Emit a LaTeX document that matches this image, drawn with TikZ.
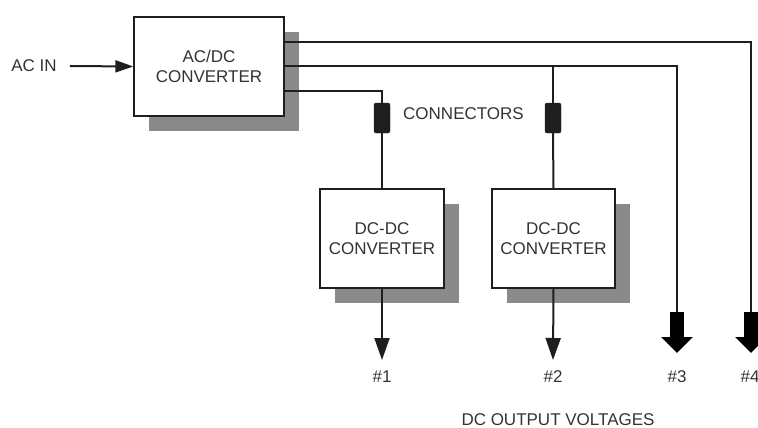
\documentclass[tikz,border=0pt]{standalone}
\usepackage{fontspec}
\setmainfont{Liberation Sans}
\usetikzlibrary{arrows.meta,shadows,calc}
\definecolor{linec}{HTML}{1E1E1E}
\definecolor{textc}{HTML}{333333}
\definecolor{shadowc}{HTML}{8A8A8A}
\tikzset{
  blockbox/.style={draw=linec, line width=1.4pt, fill=white, align=center, text=textc,
    font=\fontsize{17}{20.5}\selectfont, inner sep=0pt,
    drop shadow={shadow xshift=15pt, shadow yshift=-15pt, fill=shadowc, opacity=1}},
  wire/.style={draw=linec, line width=2pt},
  conn/.style={fill=linec, draw=linec, rounded corners=2pt, minimum width=16pt, minimum height=30pt, inner sep=0pt},
  lbl/.style={text=textc, font=\fontsize{17}{20}\selectfont, inner sep=0pt},
  thinarrow/.style={wire, -{Triangle[width=15pt,length=22pt]}},
  fatarrow/.style={draw=black, line width=14pt, -{Triangle[width=31pt,length=16pt]}}
}
\begin{document}
\begin{tikzpicture}[x=1pt,y=-1pt]
\useasboundingbox (0,0) rectangle (758,428);
\clip (0,0) rectangle (758,428);
% blocks
\node[blockbox, minimum width=150pt, minimum height=99pt] (acdc) at (209,66.5) {AC/DC\\CONVERTER};
\node[blockbox, minimum width=124pt, minimum height=99pt] (dc1) at (382,238.5) {DC-DC\\CONVERTER};
\node[blockbox, minimum width=123pt, minimum height=99pt] (dc2) at (553.5,238.5) {DC-DC\\CONVERTER};
% input
\node[lbl] (acin) at (34,66) {AC IN};
\draw[wire, -{Triangle[width=12pt,length=18pt]}] (acin.east) ++(13pt,0) coordinate (acinstart) -- (acdc.west);
% connectors
\node[conn] (c1) at (382,118) {};
\node[conn] (c2) at (553,118) {};
\node[lbl, anchor=west] (connlbl) at (403,114) {CONNECTORS};
% output coordinates
\coordinate (a1) at (382,360);
\coordinate (a2) at (553,360);
\coordinate (t3) at (677,312);
\coordinate (t4) at (751,312);
\coordinate (e3) at (677,353);
\coordinate (e4) at (751,353);
% wires from AC/DC
\draw[wire] (acdc.east |- 0,91) -| (c1.north);
\draw[wire] (c1.south) -- (dc1.north);
\draw[wire] (acdc.east |- 0,66) -| (t3);
\draw[wire] (553,66) coordinate (j2) -- (c2.north);
\draw[wire] (c2.south) -- (dc2.north);
\draw[wire] (acdc.east |- 0,42) -| (t4);
% outputs
\draw[thinarrow] (dc1.south) -- (a1);
\draw[thinarrow] (dc2.south) -- (a2);
\draw[fatarrow] (t3) -- (e3);
\draw[fatarrow] (t4) -- (e4);
\node[lbl] (o1) at (382,377) {\#1};
\node[lbl] (o2) at (553,377) {\#2};
\node[lbl] (o3) at (677,377) {\#3};
\node[lbl] (o4) at (750,377) {\#4};
\node[lbl] (dcout) at (558,420) {DC OUTPUT VOLTAGES};
\end{tikzpicture}
\end{document}
